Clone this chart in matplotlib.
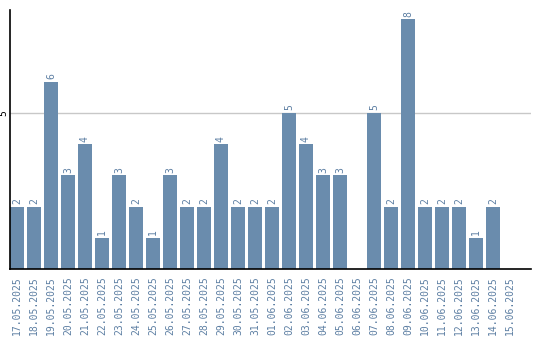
import matplotlib
matplotlib.use("Agg")
import matplotlib.pyplot as plt
import numpy as np

dates = ["17.05.2025", "18.05.2025", "19.05.2025", "20.05.2025", "21.05.2025",
         "22.05.2025", "23.05.2025", "24.05.2025", "25.05.2025", "26.05.2025",
         "27.05.2025", "28.05.2025", "29.05.2025", "30.05.2025", "31.05.2025",
         "01.06.2025", "02.06.2025", "03.06.2025", "04.06.2025", "05.06.2025",
         "06.06.2025", "07.06.2025", "08.06.2025", "09.06.2025", "10.06.2025",
         "11.06.2025", "12.06.2025", "13.06.2025", "14.06.2025", "15.06.2025"]
counts = [2, 2, 6, 3, 4, 1, 3, 2, 1, 3, 2, 2, 4, 2, 2, 2, 5, 4, 3, 3,
          0, 5, 2, 8, 2, 2, 2, 1, 2, 0]

BAR = "#6a8cad"
TXT = "#5d7fa3"

fig = plt.figure(figsize=(5.4, 3.4), dpi=100)
ax = fig.add_axes([10 / 540, 1 - 269 / 340, 521 / 540, 259 / 340])

x = np.arange(len(dates))
ax.bar(x, counts, width=0.82, color=BAR, zorder=2)
for xi, v in zip(x, counts):
    if v > 0:
        ax.text(xi, v + 0.08, str(v), rotation=90, ha="center", va="bottom",
                fontsize=7, color=TXT, family="DejaVu Sans Mono")

ax.set_xlim(-0.41, 30.24)
ax.set_ylim(0, 8.3)
ax.set_yticks([5])
ax.set_yticklabels(["5"], rotation=90, va="center", fontsize=7, family="DejaVu Sans Mono")
ax.yaxis.grid(True, color="#c8c8c8", linewidth=1, zorder=0)
ax.tick_params(axis="y", length=0, pad=1)
ax.set_xticks(x)
ax.set_xticklabels(dates, rotation=90, fontsize=7, color=TXT, family="DejaVu Sans Mono")
ax.tick_params(axis="x", length=0, pad=5)
for s in ["top", "right"]:
    ax.spines[s].set_visible(False)
ax.spines["left"].set_color("black")
ax.spines["bottom"].set_color("black")
ax.spines["left"].set_linewidth(1.2)
ax.spines["bottom"].set_linewidth(1.2)

fig.savefig("out.png", dpi=100)
